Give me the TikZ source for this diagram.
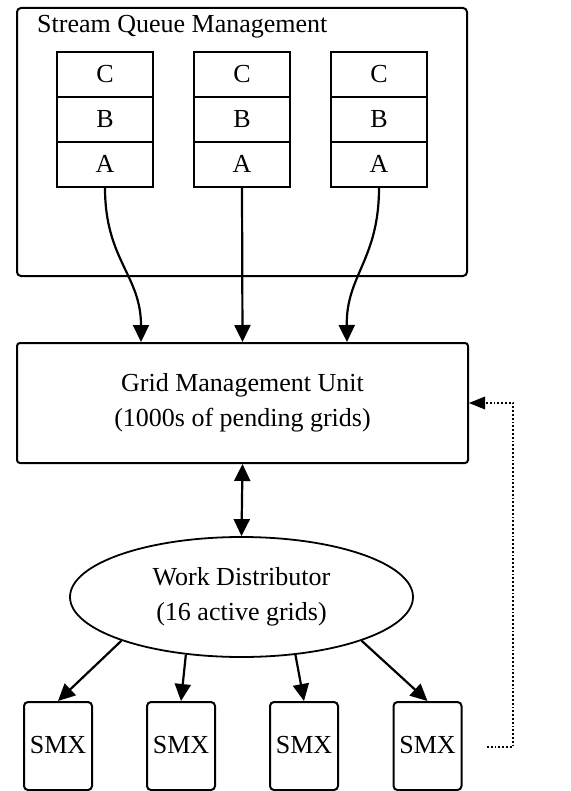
\documentclass[tikz,border=0pt]{standalone}
\usepackage{fontspec}
\setmainfont{Liberation Serif}
\usetikzlibrary{shapes.geometric,arrows.meta}
\begin{document}
\begin{tikzpicture}[x=1pt,y=-1pt,
  every node/.style={font=\fontsize{26}{35}\selectfont},
  bigbox/.style={draw,line width=2pt,rounded corners=4pt,inner sep=0pt},
  cell/.style={draw,line width=1.1pt,minimum width=96pt,minimum height=45pt,inner sep=0pt,text height=17pt,text depth=0pt},
  smx/.style={draw,line width=2pt,rounded corners=4pt,minimum width=68pt,minimum height=88pt,inner sep=0pt},
  arr/.style={line width=2.2pt,-{Triangle[length=17pt,width=16pt]}},
  darr/.style={line width=2.2pt,{Triangle[length=17pt,width=16pt]}-{Triangle[length=17pt,width=16pt]}},
  fbarr/.style={line width=1.8pt,dotted,-{Triangle[length=16pt,width=13pt,line width=0pt]}}]
\useasboundingbox (0,0) rectangle (570,791);

% Stream queue management
\node[bigbox,minimum width=450pt,minimum height=268pt] (sqm) at (242,142) {};
\node[anchor=base west,inner sep=0pt] (title) at (37,33) {Stream Queue Management};

\foreach \i/\cx in {1/105,2/242,3/379}{
  \node[cell] (q\i c) at (\cx,74.5) {C};
  \node[cell] (q\i b) at (\cx,119.5) {B};
  \node[cell] (q\i a) at (\cx,164.5) {A};
}

% Grid management unit
\node[bigbox,rounded corners=3pt,minimum width=451pt,minimum height=120pt,align=center] (gmu) at (242.5,403)
  {Grid Management Unit\\(1000s of pending grids)};

% Work distributor
\node[draw,ellipse,line width=1.8pt,minimum width=343pt,minimum height=120pt,inner sep=0pt,align=center] (wd) at (241.5,597)
  {Work Distributor\\(16 active grids)};

% SMX units
\node[smx] (s1) at (58,746) {\raisebox{3pt}{SMX}};
\node[smx] (s2) at (181,746) {\raisebox{3pt}{SMX}};
\node[smx] (s3) at (304,746) {\raisebox{3pt}{SMX}};
\node[smx] (s4) at (427.5,746) {\raisebox{3pt}{SMX}};

% queue -> GMU
\draw[arr] (q1a.south) .. controls (105,260) and (141,275) .. ([xshift=-101.5pt]gmu.north);
\draw[arr] (q2a.south) -- (gmu.north);
\draw[arr] (q3a.south) .. controls (379,260) and (346,275) .. ([xshift=104.5pt]gmu.north);

% GMU <-> WD
\draw[darr] (gmu.south) -- (wd.north);

% WD -> SMX
\draw[arr] (wd.200) -- (s1.north);
\draw[arr] (wd.226) -- (s2.north);
\draw[arr] (wd.313) -- (s3.north);
\draw[arr] (wd.340) -- (s4.north);

% feedback
\coordinate (fb) at (487,747);
\coordinate (fc) at (513,747);
\draw[fbarr] (fb) -- (fc) |- (gmu.east);
\end{tikzpicture}
\end{document}
